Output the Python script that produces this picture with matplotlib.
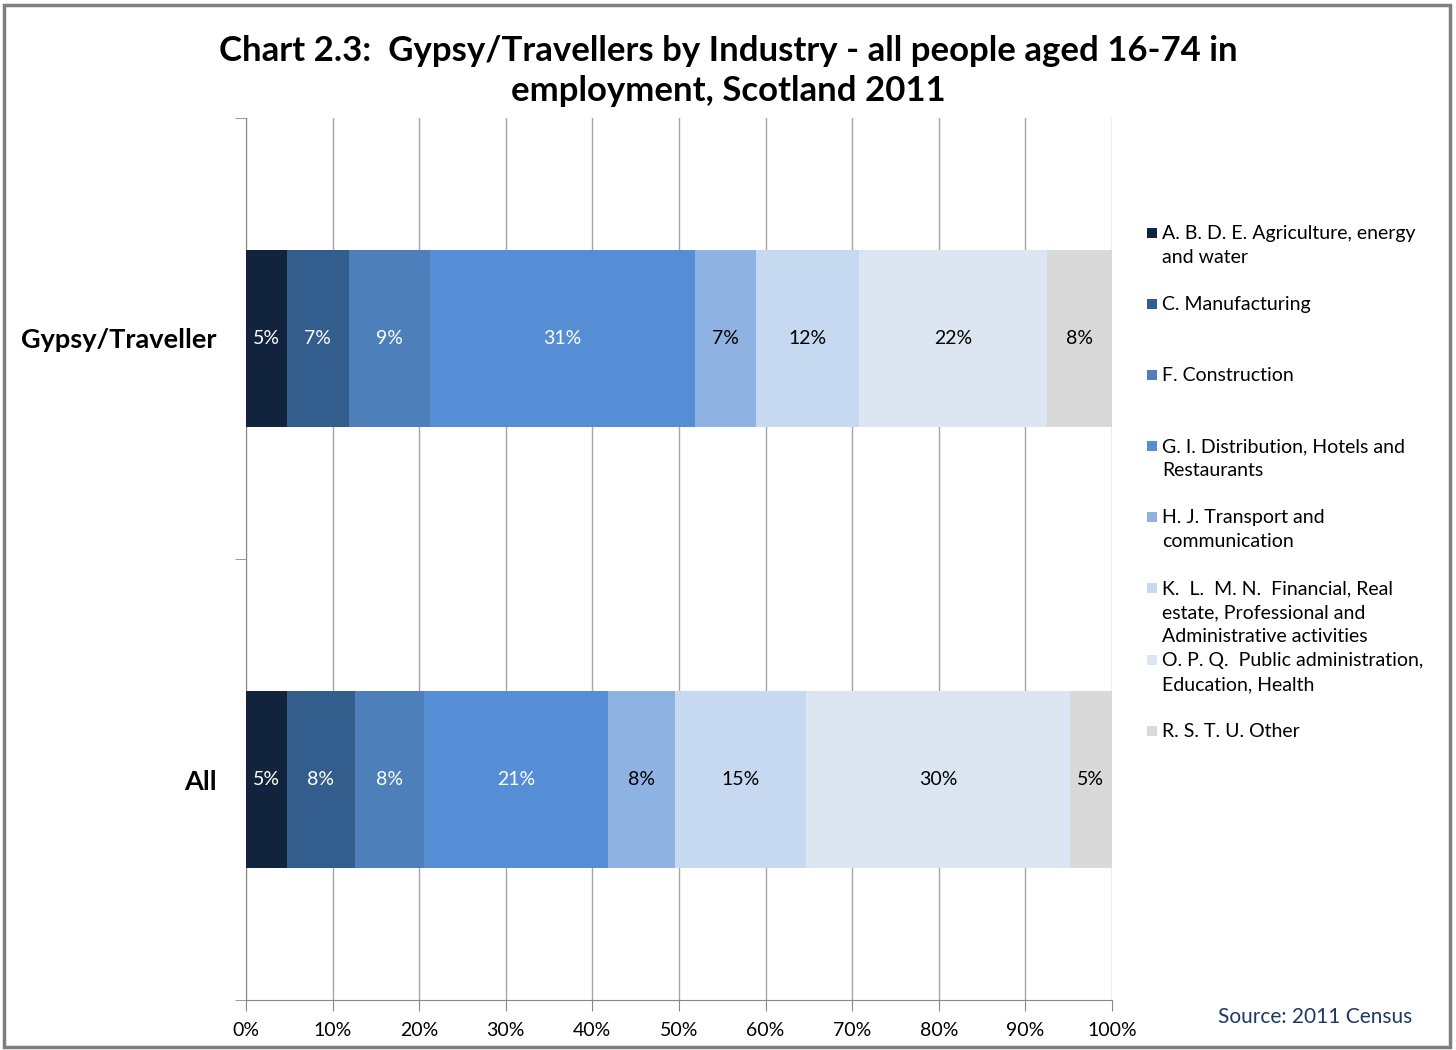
import matplotlib
matplotlib.use("Agg")
import matplotlib.pyplot as plt
from matplotlib.patches import Rectangle
import numpy as np

plt.rcParams['font.family'] = ['Lato', 'DejaVu Sans']

groups = ['Gypsy/Traveller', 'All']
industries = ['A. B. D. E. Agriculture, energy\nand water',
              'C. Manufacturing',
              'F. Construction',
              'G. I. Distribution, Hotels and\nRestaurants',
              'H. J. Transport and\ncommunication',
              'K.  L.  M. N.  Financial, Real\nestate, Professional and\nAdministrative activities',
              'O. P. Q.  Public administration,\nEducation, Health',
              'R. S. T. U. Other']
gypsy = [4.7, 7.2, 9.3, 30.6, 7.1, 11.9, 21.7, 7.5]
allp = [4.7, 7.9, 7.9, 21.3, 7.7, 15.2, 30.4, 4.9]
colors = ['#12243d', '#335d8d', '#4d7fbb', '#558ed5', '#8eb3e3', '#c6d9f1', '#dce6f2', '#d9d9d9']
label_colors = ['white', 'white', 'white', 'white', 'black', 'black', 'black', 'black']

fig = plt.figure(figsize=(14.56, 10.5), dpi=100)
ax = fig.add_axes([246/1456, 1-1000/1050, (1112-246)/1456, (1000-118)/1050])

ypos = np.arange(len(groups))
left = np.zeros(len(groups))
for i in range(len(industries)):
    vals = np.array([gypsy[i], allp[i]])
    bars = ax.barh(ypos, vals, left=left, height=0.4, color=colors[i], zorder=3)
    ax.bar_label(bars, labels=['%d%%' % round(v) for v in vals],
                 label_type='center', fontsize=14, color=label_colors[i])
    left += vals

ax.set_xlim(0, 100)
ax.set_ylim(1.5, -0.5)
ax.set_xticks(np.arange(0, 101, 10))
ax.set_xticklabels(['%d%%' % v for v in range(0, 101, 10)], fontsize=14)
ax.set_yticks(ypos)
ax.set_yticklabels(groups, fontsize=19.5, fontweight='bold')
ax.set_yticks([-0.5, 0.5, 1.5], minor=True)
ax.tick_params(axis='y', which='major', length=0, pad=21)
ax.tick_params(axis='y', which='minor', length=8, color='#888888')
ax.tick_params(axis='x', length=8, color='#888888', pad=8)
ax.grid(axis='x', color='#a6a6a6', linewidth=1, zorder=0)
for s in ['top', 'right']:
    ax.spines[s].set_visible(False)
for s in ['left', 'bottom']:
    ax.spines[s].set_color('#888888')

fig.text(0.5, 1-71/1050,
         'Chart 2.3:  Gypsy/Travellers by Industry - all people aged 16-74 in\nemployment, Scotland 2011',
         fontsize=25, fontweight='bold', ha='center', va='center', linespacing=1.32)

# legend
legend_y = [233, 304, 375, 446, 517, 588, 660, 731]
for lab, c, yp in zip(industries, colors, legend_y):
    fig.patches.append(Rectangle((1147/1456, 1-(yp+5)/1050), 10/1456, 10/1050,
                                 transform=fig.transFigure, facecolor=c, edgecolor='none'))
    fig.text(1162/1456, 1-(yp-8)/1050, lab, fontsize=14, va='top', ha='left',
             linespacing=1.5)

fig.text(1412/1456, 1-1017/1050, 'Source: 2011 Census', fontsize=15, color='#1f3864',
         ha='right', va='center')

fig.patches.append(Rectangle((4/1456, 3/1050), 1446/1456, 1042/1050, transform=fig.transFigure,
                             facecolor='none', edgecolor='#7f7f7f', linewidth=2.5))

fig.savefig('out.png', dpi=100)
